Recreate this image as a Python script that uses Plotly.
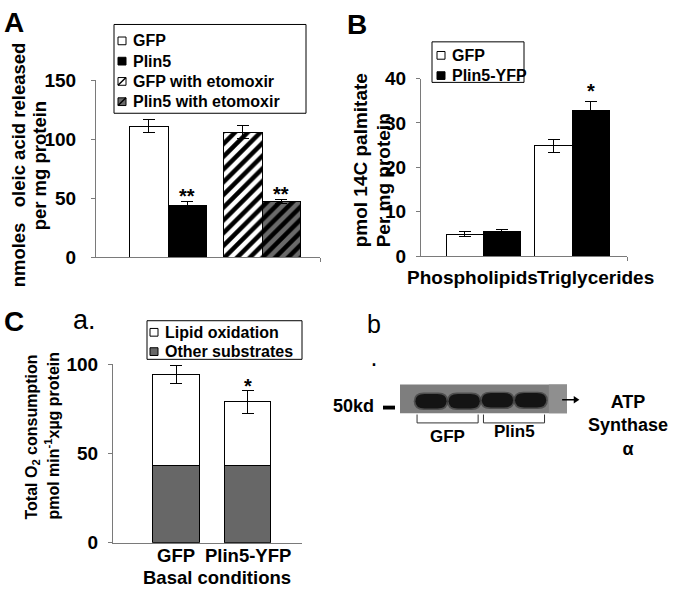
import plotly.graph_objects as go

W, H = 674, 600
FONT = "Liberation Sans, Arial, Helvetica, sans-serif"
AXC = "#7a7a7a"

# ---------------- data ----------------
A_labels = ["GFP", "Plin5", "GFP with etomoxir", "Plin5 with etomoxir"]
A_values = [111, 44, 106, 47]
A_errors = [5.5, 3, 5.5, 1.5]
A_group = [0, 0, 1, 1]
A_sig = ["", "**", "", "**"]
A_ticks = [0, 50, 100, 150]

B_categories = ["Phospholipids", "Triglycerides"]
B_series = ["GFP", "Plin5-YFP"]
B_gfp = [4.9, 24.8]
B_gfp_err = [0.6, 1.4]
B_plin = [5.6, 32.8]
B_plin_err = [0.3, 2.0]
B_sig = ["", "*"]
B_ticks = [0, 10, 20, 30, 40]

C_categories = ["GFP", "Plin5-YFP"]
C_series = ["Lipid oxidation", "Other substrates"]
C_other = [43.2, 43.2]
C_lipid = [51.0, 35.7]
C_err = [5.0, 6.5]
C_sig = ["", "*"]
C_ticks = [0, 50, 100]

blot_lanes = ["GFP", "GFP", "Plin5", "Plin5"]
blot_groups = ["GFP", "Plin5"]


def px(x):
    return x / W


def py(y):
    return 1 - y / H


fig = go.Figure()

# ---------------- Panel A ----------------
A_bw = 0.41
HATCH_W = dict(shape="/", fgcolor="#000000", fgopacity=1, bgcolor="white", size=9, solidity=0.5,
               fillmode="overlay")
HATCH_G = dict(shape="/", fgcolor="#000000", fgopacity=1, bgcolor="#6a6a6a", size=9, solidity=0.5,
               fillmode="overlay")
A_style = [
    dict(color="white", pattern=None),
    dict(color="black", pattern=None),
    dict(color="white", pattern=HATCH_W),
    dict(color="#6a6a6a", pattern=HATCH_G),
]
A_pos = []
for i, lab in enumerate(A_labels):
    side = -1 if i % 2 == 0 else 1
    xpos = A_group[i] + side * A_bw / 2
    A_pos.append(xpos)
    mk = dict(color=A_style[i]["color"], line=dict(color="black", width=1))
    if A_style[i]["pattern"]:
        mk["pattern"] = A_style[i]["pattern"]
    fig.add_trace(go.Bar(
        x=[xpos], y=[A_values[i]], width=[A_bw], name=lab, marker=mk,
        error_y=dict(type="data", array=[A_errors[i]], color="black", thickness=1, width=6),
        xaxis="x", yaxis="y", showlegend=False))

# ---------------- Panel B ----------------
B_bw = 0.416
for vals, errs, col, side, nm in [(B_gfp, B_gfp_err, "white", -1, B_series[0]),
                                  (B_plin, B_plin_err, "black", 1, B_series[1])]:
    fig.add_trace(go.Bar(
        x=[k + side * B_bw / 2 for k in range(len(B_categories))], y=vals, width=B_bw, name=nm,
        marker=dict(color=col, line=dict(color="black", width=1)),
        error_y=dict(type="data", array=errs, color="black", thickness=1, width=6),
        xaxis="x2", yaxis="y2", showlegend=False))

# ---------------- Panel C ----------------
C_bw = 0.65
fig.add_trace(go.Bar(
    x=list(range(len(C_categories))), y=C_other, width=C_bw, name=C_series[1],
    marker=dict(color="#676767", line=dict(color="black", width=1)),
    xaxis="x3", yaxis="y3", showlegend=False))
fig.add_trace(go.Bar(
    x=list(range(len(C_categories))), y=C_lipid, width=C_bw, name=C_series[0],
    marker=dict(color="white", line=dict(color="black", width=1)),
    error_y=dict(type="data", array=C_err, color="black", thickness=1, width=6),
    xaxis="x3", yaxis="y3", showlegend=False))


# ---------------- axes ----------------
def yax(domain, rng, ticks, standoff=6):
    return dict(domain=domain, range=rng, tickvals=ticks, showline=True, linecolor=AXC, linewidth=1,
                ticks="outside", ticklen=4, tickcolor=AXC, showgrid=False, zeroline=False,
                tickfont=dict(family=FONT, size=19, color="black", weight="bold"),
                ticklabelstandoff=standoff, fixedrange=True)


A_xr = [-0.766, 1.617]
B_xr = [-0.697, 1.618]
C_xr = [-0.881, 1.762]

layout = dict(
    width=W, height=H, margin=dict(l=0, r=0, t=0, b=0),
    paper_bgcolor="white", plot_bgcolor="white", barmode="stack", showlegend=False,
    font=dict(family=FONT, color="black"),
    xaxis=dict(domain=[px(96), px(320)], range=A_xr, showline=True, linecolor=AXC, showgrid=False,
               zeroline=False, tickvals=[A_xr[1]], showticklabels=False, ticks="outside", ticklen=4,
               tickcolor=AXC, anchor="y", fixedrange=True),
    yaxis=dict(**yax([py(256), py(73)], [0, 150], A_ticks, standoff=11), anchor="x"),
    xaxis2=dict(domain=[px(421), px(627)], range=B_xr, showline=True, linecolor=AXC, showgrid=False,
                zeroline=False, tickvals=[B_xr[1]], showticklabels=False, ticks="outside", ticklen=4,
                tickcolor=AXC, anchor="y2", fixedrange=True),
    yaxis2=dict(**yax([py(255), py(71)], [0, 40], B_ticks), anchor="x2"),
    xaxis3=dict(domain=[px(113), px(302)], range=C_xr, showline=True, linecolor=AXC, showgrid=False,
                zeroline=False, tickvals=[C_xr[1]], showticklabels=False, ticks="inside", ticklen=4,
                tickcolor=AXC, anchor="y3", fixedrange=True),
    yaxis3=dict(**yax([py(552), py(367)], [0, 100], C_ticks), anchor="x3"),
    # blot coordinate system: lanes horizontally, blot height units vertically
    xaxis4=dict(domain=[px(395), px(600)], range=[(395 - 431) / 33.2, (600 - 431) / 33.2],
                visible=False, anchor="y4", fixedrange=True),
    yaxis4=dict(domain=[py(432), py(384)], range=[-14 / 30, 34 / 30], visible=False, anchor="x4",
                fixedrange=True),
)

shapes = []
ann = []


def text(x, y, s, size, bold=True, xanchor="center", yanchor="middle", angle=0, **kw):
    d = dict(x=x, y=y, text=s, showarrow=False, xanchor=xanchor, yanchor=yanchor,
             textangle=angle, font=dict(family=FONT, size=size, color="black",
                                        weight="bold" if bold else "normal"))
    d.setdefault("xref", "paper")
    d.setdefault("yref", "paper")
    d.update(kw)
    return d


# panel letters
ann.append(text(px(14), py(13), "A", 28))
ann.append(text(px(357), py(15), "B", 28))
ann.append(text(px(14), py(323), "C", 28))
ann.append(text(px(84), py(321), "a.", 27, bold=False))
ann.append(text(px(374), py(343), "b<br>.", 25, bold=False))

# y-axis titles
NB = "\u00a0"
ann.append(text(px(18), py(161), "nmoles" + NB * 3 + "oleic acid released", 18.5, angle=-90))
ann.append(text(px(39), py(161), "per mg protein", 18.5, angle=-90))
ann.append(text(px(360), py(248), "pmol 14C palmitate", 19, angle=-90, yanchor="bottom"))
ann.append(text(px(383), py(248), "Per mg protein", 19, angle=-90, yanchor="bottom"))
ann.append(text(px(32), py(443), "Total O<sub>2</sub> consumption", 16, angle=-90))
ann.append(text(px(52), py(441), "pmol min<sup>-1</sup>x\u00b5g protein", 16, angle=-90))

# B category labels
ann.append(text(px(472), py(277), B_categories[0], 19))
ann.append(text(px(595), py(277), B_categories[1], 19))
# C category labels and x title
for k, c in enumerate(C_categories):
    ann.append(text(k, py(565), c, 18.5, xref="x3"))
ann.append(text(px(217), py(588), "Basal conditions", 18.5))

# significance stars
for i in range(len(A_labels)):
    if A_sig[i]:
        ann.append(text(A_pos[i], A_values[i] + A_errors[i], A_sig[i], 20, yanchor="bottom",
                        xref="x", yref="y", yshift=-7))
for k in range(len(B_categories)):
    if B_sig[k]:
        ann.append(text(k + B_bw / 2, B_plin[k] + B_plin_err[k], B_sig[k], 20, yanchor="bottom",
                        xref="x2", yref="y2", yshift=-2))
for k in range(len(C_categories)):
    if C_sig[k]:
        ann.append(text(k, C_other[k] + C_lipid[k] + C_err[k], C_sig[k], 20, yanchor="bottom",
                        xref="x3", yref="y3", yshift=-9))


# ---------------- custom legends ----------------
def legend_box(x0, y0, x1, y1):
    shapes.append(dict(type="rect", xref="paper", yref="paper", x0=px(x0), x1=px(x1), y0=py(y1),
                       y1=py(y0), line=dict(color="black", width=1), fillcolor="rgba(0,0,0,0)"))


def legend_item(xs, yc, label, fill, hatch=False, size=8):
    shapes.append(dict(type="rect", xref="paper", yref="paper", x0=px(xs), x1=px(xs + size),
                       y0=py(yc + size / 2), y1=py(yc - size / 2),
                       line=dict(color="black", width=1), fillcolor=fill))
    if hatch:
        shapes.append(dict(type="line", xref="paper", yref="paper", x0=px(xs), x1=px(xs + size),
                           y0=py(yc + size / 2), y1=py(yc - size / 2),
                           line=dict(color="black", width=1.5)))
    ann.append(text(px(xs + size + 5), py(yc), label, 16, xanchor="left"))


legend_box(114, 15, 306, 107)
A_leg_fill = ["white", "black", "white", "#6a6a6a"]
for i, lab in enumerate(A_labels):
    legend_item(118, 32 + i * 21, lab, A_leg_fill[i], hatch=(i >= 2))

legend_box(432, 33, 524, 75)
for i, (lab, col) in enumerate(zip(B_series, ["white", "black"])):
    legend_item(437, 47 + i * 21, lab, col)

legend_box(147, 322, 302, 362)
for i, (lab, col) in enumerate(zip(C_series, ["white", "#676767"])):
    legend_item(150, 334 + i * 20, lab, col)

# ---------------- western blot (panel b) ----------------
blot_x0, blot_x1 = (400 - 431) / 33.2, (567 - 431) / 33.2
shapes.append(dict(type="rect", xref="x4", yref="y4", x0=blot_x0, x1=blot_x1, y0=0, y1=1,
                   line=dict(width=0), fillcolor="#7e7e7e"))
shapes.append(dict(type="rect", xref="x4", yref="y4", x0=3.55, x1=blot_x1, y0=0, y1=1,
                   line=dict(width=0), fillcolor="#8f8f8f"))


def band_path(x0, x1, y0, y1, r):
    ym = (y0 + y1) / 2
    return (f"M {x0 + r},{y0} L {x1 - r},{y0} Q {x1},{y0} {x1},{ym} Q {x1},{y1} {x1 - r},{y1} "
            f"L {x0 + r},{y1} Q {x0},{y1} {x0},{ym} Q {x0},{y0} {x0 + r},{y0} Z")


for i, lane in enumerate(blot_lanes):
    lift = 0.03 if lane == "Plin5" else 0.0
    shapes.append(dict(type="path", xref="x4", yref="y4",
                       path=band_path(i - 0.52, i + 0.52, 0.12 + lift, 0.72 + lift, 0.3),
                       line=dict(width=0), fillcolor="rgba(40,40,40,0.55)"))
    shapes.append(dict(type="path", xref="x4", yref="y4",
                       path=band_path(i - 0.47, i + 0.47, 0.17 + lift, 0.67 + lift, 0.28),
                       line=dict(width=0), fillcolor="#141414"))

for g in blot_groups:
    idx = [i for i, l in enumerate(blot_lanes) if l == g]
    gx0, gx1 = min(idx) - 0.42, max(idx) + 0.42
    br = dict(color="#333333", width=1)
    shapes.append(dict(type="line", xref="x4", yref="y4", x0=gx0, x1=gx1, y0=-0.33, y1=-0.33, line=br))
    shapes.append(dict(type="line", xref="x4", yref="y4", x0=gx0, x1=gx0, y0=-0.33, y1=-0.04, line=br))
    shapes.append(dict(type="line", xref="x4", yref="y4", x0=gx1, x1=gx1, y0=-0.33, y1=-0.04, line=br))
    ann.append(text((gx0 + gx1) / 2, py(442 if g == "GFP" else 437), g, 17, xref="x4"))

# 50kd marker
ann.append(text(px(376), py(410), "50kd", 18, xanchor="right"))
shapes.append(dict(type="rect", xref="paper", yref="paper", x0=px(383), x1=px(395), y0=py(414),
                   y1=py(410), line=dict(width=0), fillcolor="black"))
# arrow (line + head)
shapes.append(dict(type="line", xref="x4", yref="y4", x0=3.95, x1=4.38, y0=0.47, y1=0.47,
                   line=dict(color="black", width=1.5)))
shapes.append(dict(type="path", xref="x4", yref="y4",
                   path="M 4.30,0.60 L 4.47,0.47 L 4.30,0.34 Z",
                   line=dict(width=0), fillcolor="black"))
ann.append(text(px(628), py(431), "ATP<br>Synthase<br>\u03b1", 18))

layout["shapes"] = shapes
layout["annotations"] = ann
fig.update_layout(**layout)
fig.write_html("out.html", config={"displayModeBar": False},
               post_script="document.body.style.margin='0';document.body.style.padding='0';"
                           "document.documentElement.style.overflow='hidden';")
